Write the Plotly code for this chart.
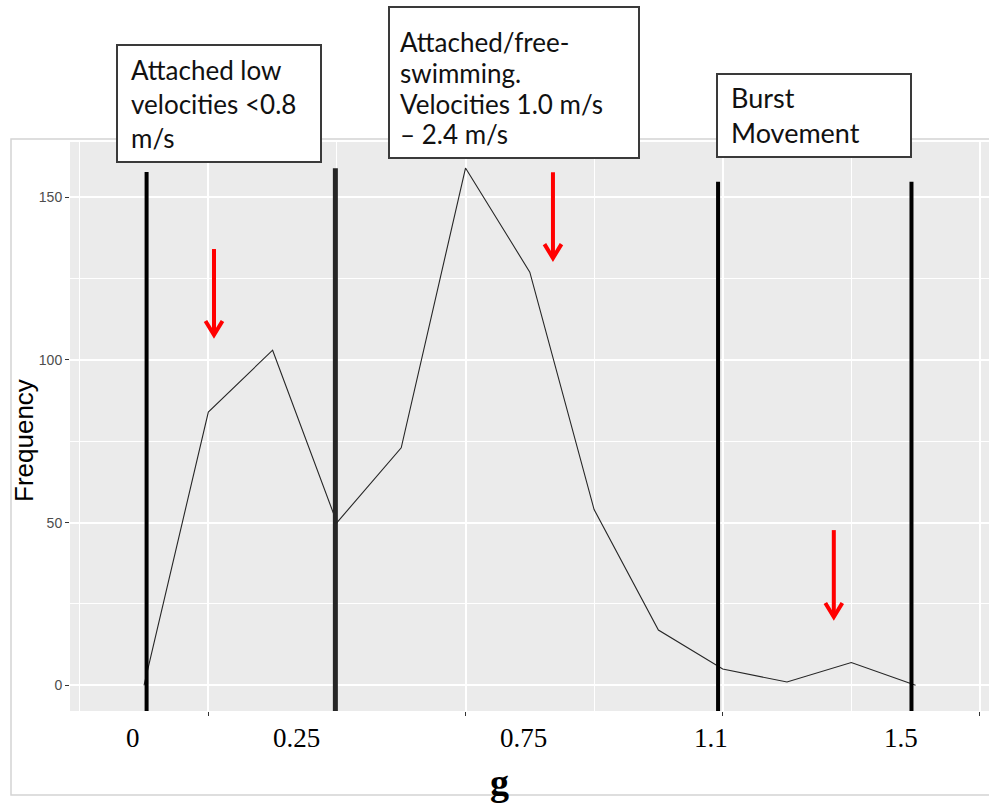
import plotly.graph_objects as go

# ---------------- data ----------------
g_bins = [-0.125, 0.0, 0.125, 0.25, 0.375, 0.5, 0.625, 0.75, 0.875, 1.0, 1.125, 1.25, 1.375]
frequency = [0, 84, 103, 50, 73, 159, 127, 54, 17, 5, 1, 7, 0]

# overlay tick labels (as drawn on the reference) and their x positions
x_label_text = ["0", "0.25", "0.75", "1.1", "1.5"]
x_label_pos = [-0.146, 0.172, 0.612, 0.977, 1.346]

# vertical class boundary markers (x position, top in frequency units)
boundary_x = [-0.120, 0.247, 0.991, 1.367]
boundary_top = [157.8, 158.9, 154.8, 154.8]
boundary_color = ["#000000", "#262626", "#000000", "#000000"]
boundary_width = [4, 5, 4, 4]

# red arrows: x, tail y, tip y
arrow_x = [0.011, 0.670, 1.216]
arrow_tail = [134.1, 157.7, 47.7]
arrow_tip = [107.7, 131.3, 21.0]

# label boxes
box_lines = [
    ["Attached low", "velocities &lt;0.8", "m/s"],
    ["Attached/free-", "swimming.", "Velocities 1.0 m/s", "– 2.4 m/s"],
    ["Burst", "Movement"],
]

# ---------------- layout geometry ----------------
W, H = 989, 803
ML, MR, MT, MB = 70, 0, 142, 92
PW, PH = W - ML - MR, H - MT - MB
X_RANGE = [-0.2689, 1.5177]
Y_RANGE = [-7.9, 167.0]


def px(xp):
    return (xp - ML) / PW


def py(yp):
    return (H - MB - yp) / PH


fig = go.Figure()
fig.add_trace(go.Scatter(
    x=g_bins, y=frequency, mode="lines",
    line=dict(color="#262626", width=1.1),
    hoverinfo="skip", showlegend=False,
))

shapes = []
# outer light frame (ggplot image border)
shapes.append(dict(type="rect", xref="paper", yref="paper",
                   x0=px(11), x1=px(1000), y0=py(795), y1=py(139),
                   line=dict(color="#d4d4d4", width=1.5), layer="below"))

for bx, bt, bc, bw in zip(boundary_x, boundary_top, boundary_color, boundary_width):
    shapes.append(dict(type="line", xref="x", yref="y", x0=bx, x1=bx,
                       y0=Y_RANGE[0] - 0.8, y1=bt,
                       line=dict(color=bc, width=bw), layer="above"))

# arrows (shaft + open chevron head)
head_dx = 8.5 / PW * (X_RANGE[1] - X_RANGE[0])
head_dy = 14.0 / PH * (Y_RANGE[1] - Y_RANGE[0])
for ax_, at, ah in zip(arrow_x, arrow_tail, arrow_tip):
    shapes.append(dict(type="line", xref="x", yref="y", x0=ax_, x1=ax_, y0=at, y1=ah + 1.0,
                       line=dict(color="#ff0000", width=4), layer="above"))
    shapes.append(dict(type="path", xref="x", yref="y",
                       path=f"M{ax_ - head_dx},{ah + head_dy} L{ax_},{ah} L{ax_ + head_dx},{ah + head_dy}",
                       line=dict(color="#ff0000", width=4), layer="above"))

# text boxes
box_px = [(117, 45, 321, 162), (389, 7, 639, 158), (717, 74, 911, 157)]
for (x0, y0, x1, y1) in box_px:
    shapes.append(dict(type="rect", xref="paper", yref="paper",
                       x0=px(x0), x1=px(x1), y0=py(y1), y1=py(y0),
                       fillcolor="white", line=dict(color="#3a3a3a", width=2), layer="above"))

annotations = []
# per-line placement: (left px, baseline px list, font size)
box_text_pos = [
    (129, [81, 115, 149], 26),
    (398, [53, 84, 115, 145], 26),
    (729, [109, 144], 27),
]
for lines, (tx, baselines, fs) in zip(box_lines, box_text_pos):
    for line, bl in zip(lines, baselines):
        annotations.append(dict(
            xref="paper", yref="paper", x=px(tx), y=py(bl - 0.43 * fs),
            xanchor="left", yanchor="middle",
            text=line, showarrow=False, align="left",
            font=dict(family="Lato", size=fs, color="#111111"),
        ))

# x tick labels overlay
for t, xv in zip(x_label_text, x_label_pos):
    annotations.append(dict(
        xref="x", yref="paper", x=xv, y=py(738), xanchor="center", yanchor="middle",
        text=t, showarrow=False,
        font=dict(family="Liberation Serif", size=27, color="#000000"),
    ))

# axis titles
annotations.append(dict(xref="paper", yref="paper", x=px(24), y=py(441),
                        xanchor="center", yanchor="middle", text="Frequency",
                        textangle=-90, showarrow=False,
                        font=dict(family="Liberation Sans", size=26, color="#000000")))
annotations.append(dict(xref="paper", yref="paper", x=px(499), y=py(782),
                        xanchor="center", yanchor="middle", text="<b>g</b>",
                        showarrow=False,
                        font=dict(family="Liberation Serif", size=38, color="#000000")))

fig.update_layout(
    width=W, height=H, autosize=False,
    margin=dict(l=ML, r=MR, t=MT, b=MB, pad=0),
    paper_bgcolor="white", plot_bgcolor="#EBEBEB",
    showlegend=False,
    shapes=shapes, annotations=annotations,
    xaxis=dict(range=X_RANGE, showticklabels=False, zeroline=False,
               tickmode="linear", tick0=0, dtick=0.5,
               showgrid=True, gridcolor="white", gridwidth=1.7,
               ticks="outside", ticklen=4, tickwidth=1, tickcolor="#333333",
               minor=dict(tickmode="linear", tick0=0.25, dtick=0.5, showgrid=True,
                          gridcolor="white", gridwidth=0.9, ticks=""),
               showline=False),
    yaxis=dict(range=Y_RANGE, zeroline=False,
               tickmode="linear", tick0=0, dtick=50,
               showgrid=True, gridcolor="white", gridwidth=1.7,
               ticks="outside", ticklen=4, tickwidth=1, tickcolor="#333333",
               tickfont=dict(family="Liberation Sans", size=14, color="#4D4D4D"),
               minor=dict(tickmode="linear", tick0=25, dtick=50, showgrid=True,
                          gridcolor="white", gridwidth=0.9, ticks=""),
               showline=False),
)

fig.write_html("out.html")
